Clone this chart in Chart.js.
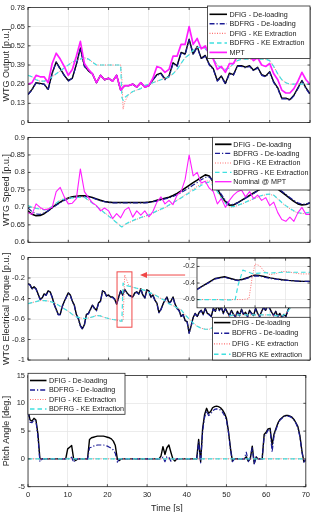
<!DOCTYPE html>
<html><head><meta charset="utf-8">
<script src="https://cdn.jsdelivr.net/npm/chart.js@4.4.0/dist/chart.umd.min.js"></script>
<style>
html,body{margin:0;padding:0;background:#fff;overflow:hidden}
#wrap{position:relative;width:314px;height:512px;overflow:hidden;background:#fff}
canvas{position:absolute;left:0}
</style></head><body>
<div id="wrap">
<canvas id="c1" width="314" height="130" style="top:0px"></canvas>
<canvas id="c2" width="314" height="120" style="top:130px"></canvas>
<canvas id="c3" width="314" height="118" style="top:250px"></canvas>
<canvas id="c4" width="314" height="148" style="top:368px"></canvas>
<canvas id="c5" width="144" height="62" style="top:252px;left:170px"></canvas>
</div>
<script>
const FONT = "'Liberation Sans', Arial, Helvetica, sans-serif";
const range = (a, b, s) => { const r = []; for (let v = a; v <= b + 1e-9; v += s) r.push(Math.round(v * 100) / 100); return r; };

// ---- time bases ----
const time = range(0, 70, 1);
const timeHalf = range(0, 70, 0.5);
const timeKE = [...range(0, 23, 1), 23.3, 23.6, ...range(24, 70, 1)];
const timeFlat = [0, 70];
const timeInset = [22.1,22.4,22.7,23.0,23.2,23.35,23.45,23.6,23.8,23.9,24.0,24.15,24.3,24.5,24.7,24.9,25.1,25.3,25.5,25.8];
const timeTicks = [0,10,20,30,40,50,60,70];

// ---- legend labels ----
const lab = {
  dfigDl: 'DFIG - De-loading', bdfrgDl: 'BDFRG - De-loading',
  dfigKe: 'DFIG - KE Extraction', bdfrgKe: 'BDFRG - KE Extraction',
  dfigKe3: 'DFIG - KE extraction', bdfrgKe3: 'BDFRG KE extraction',
  mpt: 'MPT', nomMpt: 'Nominal @ MPT'
};

// ---- Panel 1: WTG output ----
const p1Ticks = [0,0.13,0.26,0.39,0.52,0.65,0.78];
const p1Mpt = [0.26,0.27,0.32,0.31,0.31,0.27,0.40,0.47,0.43,0.38,0.32,0.36,0.45,0.55,0.40,0.36,0.33,0.27,0.32,0.29,0.30,0.28,0.32,0.22,0.25,0.25,0.26,0.24,0.27,0.24,0.25,0.30,0.38,0.37,0.34,0.36,0.45,0.45,0.53,0.53,0.65,0.53,0.57,0.50,0.52,0.46,0.43,0.36,0.38,0.34,0.40,0.40,0.45,0.45,0.44,0.45,0.42,0.44,0.39,0.38,0.40,0.33,0.29,0.22,0.20,0.20,0.23,0.28,0.34,0.29,0.26];
const p1BdfrgDl = [0.19,0.22,0.27,0.26,0.26,0.22,0.33,0.41,0.36,0.32,0.28,0.30,0.39,0.50,0.38,0.35,0.33,0.27,0.32,0.29,0.30,0.28,0.32,0.22,0.25,0.25,0.26,0.24,0.27,0.24,0.25,0.29,0.32,0.33,0.29,0.31,0.40,0.38,0.47,0.46,0.56,0.46,0.51,0.43,0.45,0.39,0.36,0.28,0.31,0.26,0.33,0.32,0.38,0.38,0.37,0.38,0.35,0.37,0.32,0.31,0.34,0.27,0.23,0.16,0.16,0.15,0.18,0.23,0.28,0.23,0.19];
const p1DfigDl = [0.19,0.225,0.27,0.265,0.26,0.225,0.335,0.41,0.365,0.32,0.285,0.30,0.395,0.505,0.385,0.35,0.33,0.27,0.32,0.29,0.30,0.28,0.32,0.22,0.25,0.25,0.26,0.24,0.27,0.24,0.25,0.29,0.325,0.335,0.295,0.315,0.405,0.385,0.475,0.465,0.565,0.465,0.515,0.435,0.455,0.395,0.365,0.285,0.315,0.265,0.335,0.325,0.385,0.385,0.375,0.385,0.355,0.375,0.325,0.315,0.345,0.275,0.235,0.165,0.165,0.155,0.185,0.235,0.285,0.235,0.195];
const p1BdfrgKe = [0.32,0.31,0.29,0.28,0.28,0.29,0.31,0.33,0.35,0.37,0.39,0.41,0.42,0.43,0.44,0.43,0.41,0.39,0.39,0.39,0.39,0.39,0.39,0.39,0.17,0.15,0.17,0.19,0.21,0.22,0.23,0.25,0.26,0.27,0.28,0.29,0.30,0.31,0.33,0.36,0.40,0.44,0.46,0.49,0.51,0.51,0.50,0.47,0.43,0.39,0.37,0.36,0.37,0.40,0.42,0.43,0.43,0.43,0.43,0.43,0.43,0.43,0.42,0.38,0.33,0.29,0.27,0.26,0.26,0.26,0.26,0.26,0.26];
const p1DfigKe = [0.32,0.31,0.29,0.28,0.28,0.29,0.31,0.33,0.35,0.37,0.39,0.41,0.42,0.43,0.44,0.43,0.41,0.39,0.39,0.39,0.39,0.39,0.39,0.39,0.30,0.09,0.14,0.19,0.21,0.22,0.23,0.25,0.26,0.27,0.28,0.29,0.30,0.31,0.33,0.36,0.40,0.44,0.46,0.49,0.51,0.51,0.50,0.47,0.43,0.39,0.37,0.36,0.37,0.40,0.42,0.43,0.43,0.43,0.43,0.43,0.43,0.43,0.42,0.38,0.33,0.29,0.27,0.26,0.26,0.26,0.26,0.26,0.26];

// ---- Panel 2: WTG speed ----
const p2Ticks = [0.6,0.65,0.7,0.75,0.8,0.85,0.9];
const p2Mpt = [0.685,0.68,0.71,0.70,0.693,0.695,0.70,0.745,0.757,0.73,0.71,0.712,0.725,0.81,0.745,0.728,0.713,0.705,0.69,0.698,0.69,0.668,0.682,0.67,0.692,0.70,0.672,0.69,0.678,0.69,0.673,0.688,0.715,0.73,0.71,0.72,0.708,0.735,0.745,0.78,0.85,0.79,0.80,0.77,0.775,0.755,0.745,0.71,0.725,0.70,0.72,0.735,0.745,0.75,0.73,0.745,0.725,0.735,0.72,0.728,0.705,0.715,0.685,0.665,0.66,0.672,0.66,0.685,0.70,0.68,0.68];
const p2DfigDl = [0.69,0.68,0.676,0.677,0.682,0.69,0.70,0.708,0.715,0.722,0.727,0.73,0.732,0.733,0.733,0.731,0.728,0.724,0.72,0.717,0.715,0.714,0.714,0.714,0.714,0.714,0.714,0.714,0.714,0.714,0.715,0.717,0.72,0.723,0.726,0.729,0.734,0.74,0.747,0.755,0.763,0.771,0.778,0.786,0.793,0.79,0.772,0.752,0.732,0.716,0.706,0.707,0.713,0.72,0.727,0.734,0.741,0.748,0.755,0.76,0.762,0.758,0.752,0.744,0.735,0.726,0.717,0.71,0.707,0.708,0.713];
const p2BdfrgDl = [0.698,0.688,0.681,0.68,0.684,0.69,0.698,0.706,0.713,0.72,0.725,0.728,0.73,0.731,0.731,0.73,0.727,0.723,0.719,0.716,0.714,0.713,0.713,0.713,0.713,0.713,0.713,0.713,0.713,0.713,0.714,0.716,0.718,0.721,0.724,0.727,0.731,0.736,0.742,0.749,0.756,0.764,0.771,0.779,0.786,0.787,0.775,0.756,0.737,0.72,0.709,0.708,0.713,0.719,0.726,0.733,0.74,0.747,0.754,0.759,0.762,0.76,0.754,0.746,0.737,0.728,0.72,0.713,0.709,0.709,0.714];
const p2BdfrgKe = [0.705,0.70,0.697,0.695,0.693,0.695,0.703,0.712,0.72,0.724,0.726,0.727,0.728,0.729,0.729,0.72,0.712,0.703,0.694,0.684,0.675,0.666,0.656,0.646,0.644,0.647,0.651,0.657,0.662,0.667,0.671,0.675,0.679,0.684,0.69,0.695,0.70,0.707,0.714,0.72,0.727,0.734,0.741,0.748,0.755,0.763,0.77,0.772,0.762,0.745,0.727,0.712,0.702,0.702,0.706,0.71,0.715,0.72,0.725,0.73,0.734,0.737,0.738,0.735,0.725,0.714,0.705,0.697,0.69,0.685,0.683,0.684,0.686];
const p2DfigKe = [0.706,0.701,0.698,0.696,0.694,0.696,0.704,0.713,0.721,0.725,0.727,0.728,0.729,0.73,0.73,0.721,0.713,0.704,0.695,0.685,0.676,0.667,0.657,0.647,0.645,0.646,0.65,0.656,0.661,0.666,0.67,0.674,0.678,0.683,0.689,0.694,0.699,0.706,0.713,0.72,0.728,0.736,0.744,0.752,0.76,0.768,0.775,0.776,0.765,0.747,0.728,0.712,0.701,0.701,0.705,0.709,0.714,0.719,0.724,0.729,0.733,0.736,0.737,0.734,0.724,0.713,0.704,0.696,0.689,0.684,0.682,0.683,0.685];

// ---- Panel 3: electrical torque ----
const p3Ticks = [-1,-0.8,-0.6,-0.4,-0.2,0];
const p3BdfrgDl = [-0.26,-0.27,-0.31,-0.29,-0.31,-0.36,-0.41,-0.40,-0.36,-0.37,-0.33,-0.34,-0.39,-0.46,-0.51,-0.56,-0.56,-0.48,-0.435,-0.39,-0.35,-0.37,-0.43,-0.47,-0.56,-0.60,-0.67,-0.70,-0.66,-0.56,-0.55,-0.51,-0.47,-0.50,-0.52,-0.45,-0.43,-0.33,-0.34,-0.38,-0.37,-0.39,-0.39,-0.41,-0.46,-0.39,-0.33,-0.37,-0.315,-0.345,-0.37,-0.38,-0.39,-0.35,-0.34,-0.36,-0.31,-0.37,-0.40,-0.32,-0.33,-0.39,-0.37,-0.42,-0.45,-0.54,-0.51,-0.46,-0.42,-0.39,-0.45,-0.43,-0.39,-0.46,-0.50,-0.52,-0.58,-0.56,-0.62,-0.63,-0.74,-0.67,-0.59,-0.55,-0.58,-0.54,-0.52,-0.56,-0.50,-0.55,-0.56,-0.58,-0.50,-0.53,-0.47,-0.52,-0.49,-0.55,-0.50,-0.54,-0.57,-0.52,-0.56,-0.58,-0.53,-0.57,-0.51,-0.56,-0.54,-0.58,-0.52,-0.55,-0.57,-0.50,-0.55,-0.58,-0.53,-0.49,-0.52,-0.47,-0.50,-0.54,-0.57,-0.53,-0.58,-0.55,-0.59,-0.56,-0.58,-0.52,-0.48,-0.45,-0.47,-0.43,-0.45,-0.41,-0.43,-0.40,-0.42,-0.39,-0.38];
const p3DfigDl = [-0.255,-0.265,-0.305,-0.285,-0.305,-0.355,-0.405,-0.395,-0.355,-0.365,-0.325,-0.335,-0.385,-0.455,-0.505,-0.555,-0.555,-0.475,-0.43,-0.385,-0.345,-0.365,-0.425,-0.465,-0.555,-0.595,-0.665,-0.695,-0.655,-0.555,-0.545,-0.505,-0.465,-0.495,-0.515,-0.445,-0.425,-0.325,-0.335,-0.375,-0.365,-0.385,-0.385,-0.405,-0.455,-0.385,-0.325,-0.365,-0.31,-0.34,-0.365,-0.375,-0.385,-0.345,-0.335,-0.355,-0.305,-0.365,-0.395,-0.315,-0.325,-0.385,-0.365,-0.415,-0.445,-0.535,-0.505,-0.455,-0.415,-0.385,-0.445,-0.425,-0.385,-0.455,-0.495,-0.515,-0.575,-0.555,-0.615,-0.625,-0.735,-0.665,-0.585,-0.545,-0.575,-0.535,-0.515,-0.555,-0.495,-0.545,-0.555,-0.575,-0.495,-0.525,-0.465,-0.515,-0.485,-0.545,-0.495,-0.535,-0.565,-0.515,-0.555,-0.575,-0.525,-0.565,-0.505,-0.555,-0.535,-0.575,-0.515,-0.545,-0.565,-0.495,-0.545,-0.575,-0.525,-0.485,-0.515,-0.465,-0.495,-0.535,-0.565,-0.525,-0.575,-0.545,-0.585,-0.555,-0.575,-0.515,-0.475,-0.445,-0.465,-0.425,-0.445,-0.405,-0.425,-0.395,-0.415,-0.385,-0.375];
const p3BdfrgKe = [-0.45,-0.44,-0.43,-0.42,-0.42,-0.425,-0.435,-0.45,-0.475,-0.50,-0.525,-0.555,-0.58,-0.59,-0.595,-0.59,-0.58,-0.565,-0.57,-0.585,-0.595,-0.605,-0.61,-0.62,-0.62,-0.25,-0.27,-0.28,-0.29,-0.30,-0.31,-0.32,-0.34,-0.355,-0.375,-0.40,-0.42,-0.45,-0.47,-0.49,-0.51,-0.56,-0.60,-0.64,-0.67,-0.69,-0.70,-0.70,-0.68,-0.65,-0.62,-0.59,-0.57,-0.56,-0.56,-0.56,-0.56,-0.56,-0.56,-0.56,-0.56,-0.56,-0.56,-0.565,-0.57,-0.57,-0.55,-0.50,-0.45,-0.42,-0.40,-0.39,-0.39];
const p3DfigKe = [-0.45,-0.44,-0.43,-0.42,-0.42,-0.425,-0.435,-0.45,-0.475,-0.50,-0.525,-0.555,-0.58,-0.59,-0.595,-0.59,-0.58,-0.565,-0.57,-0.585,-0.595,-0.605,-0.61,-0.62,-0.62,-0.62,-0.17,-0.27,-0.29,-0.30,-0.31,-0.32,-0.34,-0.355,-0.375,-0.40,-0.42,-0.45,-0.47,-0.49,-0.51,-0.56,-0.60,-0.64,-0.67,-0.69,-0.70,-0.70,-0.68,-0.65,-0.62,-0.59,-0.57,-0.56,-0.56,-0.56,-0.56,-0.56,-0.56,-0.56,-0.56,-0.56,-0.56,-0.565,-0.57,-0.57,-0.55,-0.50,-0.45,-0.42,-0.40,-0.39,-0.39];

// ---- Inset (zoom of panel 3) ----
const inTicks = [-0.6,-0.4,-0.2];
const inTimeTicks = [23,24,25];
const inDfigDl = [-0.475,-0.41,-0.345,-0.325,-0.345,-0.36,-0.365,-0.355,-0.33,-0.313,-0.305,-0.31,-0.322,-0.338,-0.35,-0.36,-0.368,-0.374,-0.378,-0.38];
const inBdfrgDl = [-0.48,-0.415,-0.35,-0.33,-0.35,-0.365,-0.372,-0.36,-0.335,-0.32,-0.315,-0.318,-0.33,-0.345,-0.355,-0.365,-0.37,-0.375,-0.38,-0.38];
const inBdfrgKe = [-0.60,-0.60,-0.60,-0.605,-0.605,-0.60,-0.42,-0.245,-0.27,-0.285,-0.285,-0.28,-0.275,-0.28,-0.275,-0.27,-0.27,-0.27,-0.27,-0.27];
const inDfigKe = [-0.60,-0.60,-0.60,-0.60,-0.60,-0.60,-0.60,-0.60,-0.59,-0.35,-0.17,-0.19,-0.26,-0.30,-0.285,-0.26,-0.265,-0.28,-0.29,-0.29];

// ---- Panel 4: pitch angle ----
const p4Ticks = [-5,0,5,10,15];
const p4DfigDl = [8.8,7.0,6.8,7.3,7.0,4.5,0,0, 0,0,0,0,0,0,0,0,0,0,0,0, 1.8,2.1,2.4,0,-0.3, 0,0,0,0,0,0, 3.5,3.8,3.9,4.0,4.1,4.1,4.1,4.1,4.0,3.9,3.8,3.6,3.2,2.4,0,-0.3, 0,0,0,0,0,0,0,0,0,0,0,0,0,0,0,0,0,0,0,0, 0.5,2.2,0.8,2.0,2.5,1.2,0,-0.4, 0,0,0,0,0,0,0,0,0,0,0, 3.5,-0.5,5.5,8.0,9.1,8.2,8.5,9.2,9.4,9.5,9.4,9.2,8.8,8.2,7.3,5.0,2.0,-0.4, 0,0,0,0,0,0, 0.4,-0.4,0,2.3,-0.8,0.3,0,0,0, 4.4,4.8,5.4,5.5,2.5,4.5,5.5,6.5,7.1,7.4,7.7,7.8,7.8,7.7,7.5,7.1,6.5,5.8,4.2,1.5,-0.5,-0.3];
const p4BdfrgDl = [8.5,6.6,6.5,7.0,6.8,4.0,-0.5,0, 0,0,0,0,0,0,0,0,0,0,0,0, 0,0.2,0.3,-0.6,0, 0,0,0,0,0,0, 2.0,2.1,2.3,2.4,2.5,2.5,2.5,2.5,2.4,2.3,2.1,1.9,1.6,1.0,-0.6,0, 0,0,0,0,0,0,0,0,0,0,0,0,0,0,0,0,0,0,0,0, 0,0.3,-0.5,0.4,0.3,-0.4,0,0, 0,0,0,0,0,0,0,0,0,0,0, 3.0,-0.7,5.0,7.5,8.6,7.8,8.0,8.6,8.9,9.0,8.9,8.8,8.4,7.8,7.0,4.8,1.8,-0.5, 0,0,0,0,0,0, 1.2,-0.5,0.2,2.0,-0.9,0.4,0,0,0, 4.0,4.5,5.2,5.3,1.2,4.2,5.3,6.3,7.0,7.3,7.6,7.7,7.7,7.6,7.4,7.0,6.4,5.6,4.0,1.3,-0.6,0];
const p4DfigKe = [0, 0];
const p4BdfrgKe = [0, 0];

// ---- styles ----
const STY = {
  dfigDl: {color: '#000000', width: 1.4, dash: []},
  bdfrgDl: {color: '#1c1c96', width: 1.2, dash: [5, 2, 1.2, 2]},
  dfigKe: {color: '#ff6f6f', width: 1, dash: [1, 1.5]},
  bdfrgKe: {color: '#40e0e0', width: 1.2, dash: [4.5, 3]},
  mpt: {color: '#ff1dff', width: 1.2, dash: []}
};
const ORDER = {mpt: 0, bdfrgKe: 1, dfigKe: 2, bdfrgDl: 3, dfigDl: 4};

function ds(key, label, t, v, width) {
  const s = STY[key];
  return {label, data: t.map((x, i) => ({x, y: v[i]})), borderColor: s.color, borderWidth: width || s.width,
    borderDash: s.dash, pointRadius: 0, tension: 0, fill: false, order: ORDER[key], borderJoinStyle: 'round'};
}
const fmt = v => String(Number(Number(v).toFixed(2)));

function helperPlugin(o) {
  return {
    id: 'helper',
    beforeDraw(chart) {
      if (!o.bg) return;
      const a = chart.chartArea, c = chart.ctx;
      c.save(); c.fillStyle = '#fff'; c.fillRect(a.left, a.top, a.right - a.left, a.bottom - a.top); c.restore();
    },
    afterDatasetsDraw(chart) {
      const a = chart.chartArea, c = chart.ctx, sx = chart.scales.x, sy = chart.scales.y;
      c.save();
      if (o.zoomBox) {
        const z = o.zoomBox;
        const x0 = sx.getPixelForValue(z.t0), x1 = sx.getPixelForValue(z.t1);
        const y0 = sy.getPixelForValue(z.v0), y1 = sy.getPixelForValue(z.v1);
        c.strokeStyle = z.color; c.lineWidth = 1; c.setLineDash([]);
        c.strokeRect(x0, y0, x1 - x0, y1 - y0);
        const ax0 = sx.getPixelForValue(z.arrowFrom), ax1 = sx.getPixelForValue(z.arrowTo), ay = sy.getPixelForValue(z.arrowV);
        c.beginPath(); c.moveTo(ax0, ay); c.lineTo(ax1 + 6, ay); c.stroke();
        c.fillStyle = z.color; c.beginPath(); c.moveTo(ax1, ay); c.lineTo(ax1 + 7, ay - 3); c.lineTo(ax1 + 7, ay + 3); c.closePath(); c.fill();
      }
      c.strokeStyle = '#262626'; c.lineWidth = 0.8; c.setLineDash([]);
      c.strokeRect(a.left, a.top, a.right - a.left, a.bottom - a.top);
      const tl = 2.5;
      c.beginPath();
      o.xTicks.forEach(v => { const x = sx.getPixelForValue(v); c.moveTo(x, a.bottom); c.lineTo(x, a.bottom - tl); c.moveTo(x, a.top); c.lineTo(x, a.top + tl); });
      o.yTicks.forEach(v => { const y = sy.getPixelForValue(v); c.moveTo(a.left, y); c.lineTo(a.left + tl, y); c.moveTo(a.right, y); c.lineTo(a.right - tl, y); });
      c.stroke();
      c.restore();
    },
    afterDraw(chart) {
      if (!o.legend) return;
      const L = o.legend, c = chart.ctx;
      c.save();
      c.fillStyle = '#fff'; c.fillRect(L.x0, L.y0, L.x1 - L.x0, L.y1 - L.y0);
      c.strokeStyle = '#262626'; c.lineWidth = 0.8; c.strokeRect(L.x0, L.y0, L.x1 - L.x0, L.y1 - L.y0);
      L.items.forEach((it, i) => {
        const s = STY[it.key], y = L.rows[i];
        c.beginPath(); c.setLineDash(s.dash); c.strokeStyle = s.color; c.lineWidth = (it.width || s.width) + 0.2;
        c.moveTo(L.s0, y); c.lineTo(L.s1, y); c.stroke(); c.setLineDash([]);
        c.fillStyle = '#1a1a1a'; c.font = '7.2px ' + FONT; c.textBaseline = 'middle'; c.textAlign = 'left';
        c.fillText(it.label, L.tx, y + 0.3);
      });
      c.restore();
    }
  };
}

function panel(id, o) {
  return new Chart(document.getElementById(id), {
    type: 'line',
    data: {datasets: o.datasets},
    options: {
      responsive: false, animation: false, devicePixelRatio: 1, events: [],
      layout: {padding: o.pad},
      plugins: {legend: {display: false}, tooltip: {enabled: false}},
      scales: {
        x: {
          type: 'linear', min: o.xmin, max: o.xmax,
          afterBuildTicks: s => { s.ticks = o.xTicks.map(v => ({value: v})); },
          afterFit: s => { s.height = o.xh; },
          ticks: {display: !!o.xLabels, font: {family: FONT, size: 7.5}, color: '#262626', padding: 4, maxRotation: 0, autoSkip: false, callback: v => fmt(v)},
          grid: {color: '#e4e4e4', lineWidth: 0.7, drawTicks: false},
          border: {display: false},
          title: {display: !!o.xTitle, text: o.xTitle || '', font: {family: FONT, size: 9}, color: '#262626', padding: {top: 0, bottom: 1.6}}
        },
        y: {
          min: o.ymin, max: o.ymax,
          afterBuildTicks: s => { s.ticks = o.yTicks.map(v => ({value: v})); },
          afterFit: s => { s.width = o.yw; },
          ticks: {font: {family: FONT, size: o.tickSize || 7.5}, color: '#262626', padding: o.tickPad || 3, autoSkip: false, callback: v => fmt(v)},
          grid: {color: '#e4e4e4', lineWidth: 0.7, drawTicks: false},
          border: {display: false},
          title: {display: !!o.yTitle, text: o.yTitle || '', font: {family: FONT, size: 9}, color: '#262626', padding: {top: 1.6, bottom: 0}}
        }
      }
    },
    plugins: [helperPlugin(o)]
  });
}

// Panel 1
panel('c1', {
  pad: {top: 6, right: 4, bottom: 7.3, left: 0}, xh: 0, yw: 28,
  xmin: 0, xmax: 70, xTicks: timeTicks, ymin: 0, ymax: 0.78, yTicks: p1Ticks,
  yTitle: 'WTG Output [p.u.]',
  datasets: [
    ds('mpt', lab.mpt, time, p1Mpt, 1.7),
    ds('bdfrgKe', lab.bdfrgKe, timeKE, p1BdfrgKe),
    ds('dfigKe', lab.dfigKe, timeKE, p1DfigKe),
    ds('bdfrgDl', lab.bdfrgDl, time, p1BdfrgDl),
    ds('dfigDl', lab.dfigDl, time, p1DfigDl)
  ],
  legend: {x0: 207.5, x1: 310, y0: 6, y1: 58.5, rows: [14.3, 23.8, 33.4, 43, 52.4], s0: 209.5, s1: 227, tx: 229.5,
    items: [{key: 'dfigDl', label: lab.dfigDl}, {key: 'bdfrgDl', label: lab.bdfrgDl}, {key: 'dfigKe', label: lab.dfigKe}, {key: 'bdfrgKe', label: lab.bdfrgKe}, {key: 'mpt', label: lab.mpt, width: 1.5}]}
});

// Panel 2
panel('c2', {
  pad: {top: 7.3, right: 4, bottom: 7.7, left: 0}, xh: 0, yw: 28,
  xmin: 0, xmax: 70, xTicks: timeTicks, ymin: 0.6, ymax: 0.9, yTicks: p2Ticks,
  yTitle: 'WTG Speed [p.u.]',
  datasets: [
    ds('mpt', lab.nomMpt, time, p2Mpt, 1.1),
    ds('bdfrgKe', lab.bdfrgKe, timeKE, p2BdfrgKe),
    ds('dfigKe', lab.dfigKe, timeKE, p2DfigKe),
    ds('bdfrgDl', lab.bdfrgDl, time, p2BdfrgDl),
    ds('dfigDl', lab.dfigDl, time, p2DfigDl, 1.6)
  ],
  legend: {x0: 212.5, x1: 310, y0: 7.3, y1: 60, rows: [14.3, 23.4, 33, 42.4, 51.7], s0: 215, s1: 231.5, tx: 233.3,
    items: [{key: 'dfigDl', label: lab.dfigDl, width: 1.6}, {key: 'bdfrgDl', label: lab.bdfrgDl}, {key: 'dfigKe', label: lab.dfigKe}, {key: 'bdfrgKe', label: lab.bdfrgKe}, {key: 'mpt', label: lab.nomMpt, width: 1.1}]}
});

// Panel 3
panel('c3', {
  pad: {top: 5, right: 4, bottom: 8, left: 0}, xh: 0, yw: 28,
  xmin: 0, xmax: 70, xTicks: timeTicks, ymin: -1, ymax: 0, yTicks: p3Ticks,
  yTitle: 'WTG Electrical Torque [p.u.]',
  datasets: [
    ds('bdfrgKe', lab.bdfrgKe3, timeKE, p3BdfrgKe),
    ds('dfigKe', lab.dfigKe3, timeKE, p3DfigKe),
    ds('bdfrgDl', lab.bdfrgDl, timeHalf, p3BdfrgDl),
    ds('dfigDl', lab.dfigDl, timeHalf, p3DfigDl)
  ],
  zoomBox: {t0: 22.1, t1: 25.8, v0: -0.14, v1: -0.68, arrowFrom: 39, arrowTo: 27.8, arrowV: -0.171, color: '#f04848'},
  legend: {x0: 212.5, x1: 310, y0: 67.3, y1: 110, rows: [72.6, 83.2, 93.9, 104.3], s0: 214, s1: 230.5, tx: 232,
    items: [{key: 'dfigDl', label: lab.dfigDl}, {key: 'bdfrgDl', label: lab.bdfrgDl}, {key: 'dfigKe', label: lab.dfigKe3}, {key: 'bdfrgKe', label: lab.bdfrgKe3}]}
});

// Panel 4
panel('c4', {
  pad: {top: 5.3, right: 4, bottom: 0, left: 0}, xh: 29.3, yw: 28,
  xmin: 0, xmax: 70, xTicks: timeTicks, xLabels: true, xTitle: 'Time [s]',
  ymin: -5, ymax: 15, yTicks: p4Ticks,
  yTitle: 'Pitch Angle [deg.]',
  datasets: [
    ds('bdfrgKe', lab.bdfrgKe, timeFlat, p4BdfrgKe),
    ds('dfigKe', lab.dfigKe, timeFlat, p4DfigKe),
    ds('bdfrgDl', lab.bdfrgDl, timeHalf, p4BdfrgDl),
    ds('dfigDl', lab.dfigDl, timeHalf, p4DfigDl)
  ],
  legend: {x0: 28, x1: 125, y0: 5.3, y1: 46.3, rows: [12.5, 22, 31.5, 41], s0: 30, s1: 46.5, tx: 49,
    items: [{key: 'dfigDl', label: lab.dfigDl}, {key: 'bdfrgDl', label: lab.bdfrgDl}, {key: 'dfigKe', label: lab.dfigKe}, {key: 'bdfrgKe', label: lab.bdfrgKe}]}
});

// Inset
panel('c5', {
  pad: {top: 4, right: 4, bottom: 2.5, left: 0}, xh: 0, yw: 27, bg: true,
  xmin: 22.1, xmax: 25.8, xTicks: inTimeTicks, ymin: -0.7, ymax: -0.1, yTicks: inTicks,
  tickSize: 7, tickPad: 2,
  datasets: [
    ds('bdfrgKe', lab.bdfrgKe3, timeInset, inBdfrgKe),
    ds('dfigKe', lab.dfigKe3, timeInset, inDfigKe),
    ds('bdfrgDl', lab.bdfrgDl, timeInset, inBdfrgDl),
    ds('dfigDl', lab.dfigDl, timeInset, inDfigDl)
  ]
});
</script>
</body></html>
